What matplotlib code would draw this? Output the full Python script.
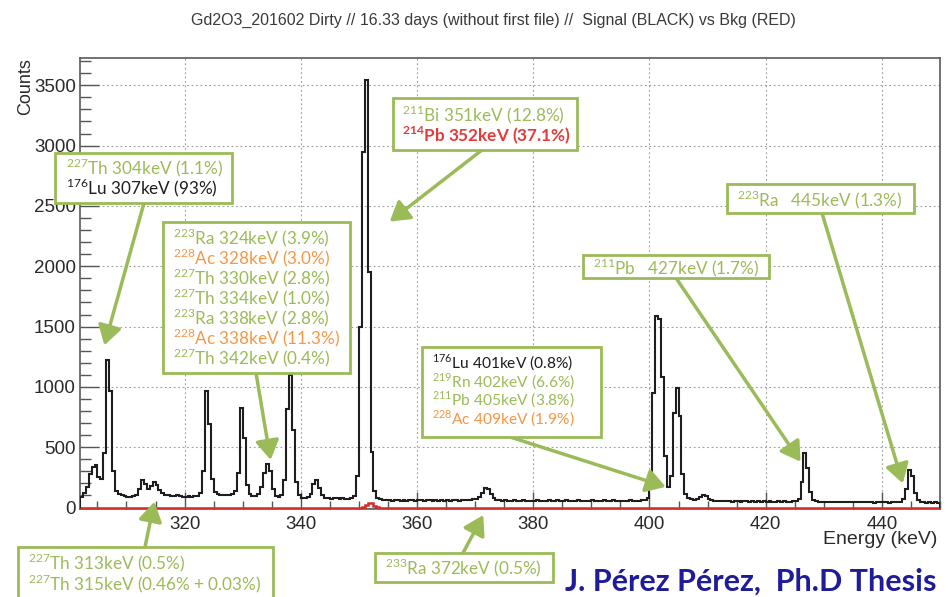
import numpy as np
import matplotlib.pyplot as plt
from matplotlib.patches import Rectangle
from matplotlib.ticker import MultipleLocator

plt.rcParams["mathtext.fontset"] = "custom"
plt.rcParams["mathtext.rm"] = "Lato"
plt.rcParams["mathtext.bf"] = "Lato:bold"

# ---------------------------------------------------------------
# Spectrum: counts per 0.5 keV bin, 302 -> 450 keV
# ---------------------------------------------------------------
E_START = 302.0
BIN_W = 0.5

signal_counts = [
    # 302 - 312
    90, 120, 170, 280, 340, 350, 250, 240, 450, 1220,
    970, 300, 140, 115, 100, 95, 90, 88, 92, 100,
    # 312 - 322
    150, 228, 195, 155, 180, 215, 190, 145, 120, 108,
    104, 98, 95, 100, 92, 88, 90, 96, 90, 93,
    # 322 - 332
    95, 120, 300, 965, 690, 240, 130, 110, 104, 100,
    102, 106, 115, 135, 290, 822, 580, 190, 110, 96,
    # 332 - 342
    94, 110, 170, 290, 362, 300, 150, 95, 88, 105,
    230, 820, 1095, 640, 210, 100, 82, 80, 88, 115,
    # 342 - 352
    195, 228, 160, 100, 82, 78, 75, 80, 76, 72,
    78, 75, 74, 80, 95, 260, 1500, 2950, 3545, 1950,
    # 352 - 362
    460, 140, 80, 70, 64, 60, 66, 58, 62, 60,
    55, 63, 58, 60, 65, 57, 60, 62, 56, 59,
    # 362 - 372
    63, 58, 60, 55, 61, 58, 62, 56, 60, 64,
    58, 60, 62, 66, 63, 68, 72, 85, 120, 158,
    # 372 - 382
    150, 110, 80, 66, 60, 58, 62, 57, 55, 60,
    58, 56, 61, 57, 54, 58, 56, 60, 57, 53,
    # 382 - 392
    58, 62, 55, 57, 60, 54, 58, 61, 56, 53,
    57, 60, 55, 58, 54, 57, 60, 55, 52, 57,
    # 392 - 402
    59, 54, 56, 60, 55, 53, 58, 56, 54, 59,
    57, 55, 58, 62, 66, 80, 260, 950, 1585, 1560,
    # 402 - 412
    1080, 430, 170, 260, 780, 990, 760, 280, 110, 78,
    68, 64, 70, 88, 108, 95, 72, 62, 58, 56,
    # 412 - 422
    55, 52, 56, 53, 50, 54, 52, 49, 53, 51,
    48, 52, 50, 53, 49, 51, 48, 52, 50, 47,
    # 422 - 432
    51, 49, 52, 48, 50, 53, 56, 75, 210, 450,
    330, 125, 62, 52, 49, 47, 50, 46, 48, 45,
    # 432 - 442
    47, 44, 46, 48, 45, 43, 46, 44, 42, 45,
    43, 46, 44, 41, 44, 42, 45, 43, 41, 44,
    # 442 - 450
    42, 45, 50, 70, 150, 312, 260, 120, 60, 46,
    43, 41, 44, 40, 42, 40,
]

# Background: flat at zero except the small 214Pb bump
bkg_energy = [350.5, 351.0, 351.5, 352.0, 352.5, 353.0]
bkg_counts = [5, 18, 36, 38, 16, 4]

edges = E_START + BIN_W * np.arange(len(signal_counts) + 1)
bkg = np.zeros(len(signal_counts))
for e, c in zip(bkg_energy, bkg_counts):
    bkg[int(round((e - E_START) / BIN_W))] = c

GREEN = "#9BBB59"
ORANGE = "#F79646"
RED = "#E5393A"
BLACK = "#1e1e1e"

# ---------------------------------------------------------------
W, H = 946, 597
fig = plt.figure(figsize=(W / 100, H / 100), dpi=100)
ax = fig.add_axes([80 / W, 1 - 509 / H, 860 / W, 451 / H])

ax.stairs(bkg, edges, color="#d42a2a", lw=1.8, zorder=3)
ax.stairs(signal_counts, edges, color=BLACK, lw=1.5, zorder=4)

ax.set_xlim(302, 450)
ax.set_ylim(-12, 3726)
ax.xaxis.set_major_locator(MultipleLocator(20))
ax.xaxis.set_minor_locator(MultipleLocator(5))
ax.yaxis.set_major_locator(MultipleLocator(500))
ax.yaxis.set_minor_locator(MultipleLocator(100))
ax.grid(True, which="major", color="#9a9a9a", lw=0.8, linestyle=(0, (1.5, 2.5)))
ax.tick_params(axis="both", which="both", direction="in", colors="#555555",
               labelcolor="#2a2a2a", labelsize=13.5)
ax.tick_params(axis="y", which="major", length=14, width=1.0, pad=3)
ax.tick_params(axis="y", which="minor", length=8, width=1.0)
ax.tick_params(axis="x", which="major", length=12, width=1.0, pad=5)
ax.tick_params(axis="x", which="minor", length=6, width=1.0)
for lab in ax.get_xticklabels() + ax.get_yticklabels():
    lab.set_family("Liberation Sans")
for sp in ax.spines.values():
    sp.set_color("#5a5a5a")
    sp.set_linewidth(1.2)

fig.text(493 / W, 1 - 20 / H,
         "Gd2O3_201602 Dirty // 16.33 days (without first file) //  Signal (BLACK) vs Bkg (RED)",
         ha="center", va="center", fontsize=11.5, color="#3a3a3a", family="Liberation Sans")
fig.text(26 / W, 1 - 58 / H, "Counts", rotation=90, ha="center", va="top",
         fontsize=13, color="#2a2a2a", family="Liberation Sans")
fig.text(937 / W, 1 - 540 / H, "Energy (keV)", ha="right", va="center",
         fontsize=14, color="#2a2a2a", family="Liberation Sans")


def px(x, y):
    return x / W, 1 - y / H


def label_box(x0, y0, x1, y1, lines, tx, ty, dy=20, size=12.3):
    fig.add_artist(Rectangle(px(x0, y1), (x1 - x0) / W, (y1 - y0) / H,
                             transform=fig.transFigure, facecolor="white",
                             edgecolor=GREEN, lw=2.0, zorder=5))
    for i, (s, c, bold) in enumerate(lines):
        fig.text(*px(tx, ty + i * dy), s, color=c, fontsize=size, family="Lato",
                 fontweight="bold" if bold else "normal",
                 ha="left", va="center", zorder=6)


def arrow(tail, tip):
    ax.annotate("", xy=tip, xycoords="data", xytext=px(*tail),
                textcoords="figure fraction", annotation_clip=False,
                arrowprops=dict(arrowstyle="-|>,head_length=0.9,head_width=0.55",
                                color=GREEN, lw=2.5, shrinkA=0, shrinkB=0,
                                mutation_scale=13), zorder=5)


label_box(55, 153, 232, 203, [
    (r"$^{227}$Th 304keV (1.1%)", GREEN, False),
    (r"$^{176}$Lu 307keV (93%)", BLACK, False),
], 66, 168)
arrow((144, 203), (306.2, 1345))

label_box(163, 222, 350, 373, [
    (r"$^{223}$Ra 324keV (3.9%)", GREEN, False),
    (r"$^{228}$Ac 328keV (3.0%)", ORANGE, False),
    (r"$^{227}$Th 330keV (2.8%)", GREEN, False),
    (r"$^{227}$Th 334keV (1.0%)", GREEN, False),
    (r"$^{223}$Ra 338keV (2.8%)", GREEN, False),
    (r"$^{228}$Ac 338keV (11.3%)", ORANGE, False),
    (r"$^{227}$Th 342keV (0.4%)", GREEN, False),
], 173, 238)
arrow((256, 373), (334.8, 395))

label_box(393, 98, 577, 150, [
    (r"$^{211}$Bi 351keV (12.8%)", GREEN, False),
    (r"$^{\mathbf{214}}$Pb 352keV (37.1%)", RED, True),
], 402, 115)
arrow((482, 150), (355.3, 2370))

label_box(422, 347, 601, 437, [
    (r"$^{176}$Lu 401keV (0.8%)", BLACK, False),
    (r"$^{219}$Rn 402keV (6.6%)", GREEN, False),
    (r"$^{211}$Pb 405keV (3.8%)", GREEN, False),
    (r"$^{228}$Ac 409keV (1.9%)", ORANGE, False),
], 432, 363, dy=18.7, size=11.2)
arrow((510, 437), (402.8, 172))

label_box(583, 255, 769, 278, [
    (r"$^{211}$Pb   427keV (1.7%)", GREEN, False),
], 593, 268)
arrow((676, 278), (426.0, 380))

label_box(727, 184, 914, 213, [
    (r"$^{223}$Ra   445keV (1.3%)", GREEN, False),
], 737, 200)
arrow((822, 213), (443.6, 200))

label_box(18, 547, 273, 610, [
    (r"$^{227}$Th 313keV (0.5%)", GREEN, False),
    (r"$^{227}$Th 315keV (0.46% + 0.03%)", GREEN, False),
], 28, 563, dy=20.5)
arrow((145, 547), (314.8, 48))

label_box(375, 553, 553, 582, [
    (r"$^{233}$Ra 372keV (0.5%)", GREEN, False),
], 385, 568)
arrow((463, 553), (371.4, -62))

fig.text(565 / W, 1 - 582 / H, "J. Pérez Pérez,  Ph.D Thesis", color="#1f1c99",
         fontsize=22, fontweight="bold", family="Lato", ha="left", va="center")

fig.savefig("out.png", dpi=100, facecolor="white")
